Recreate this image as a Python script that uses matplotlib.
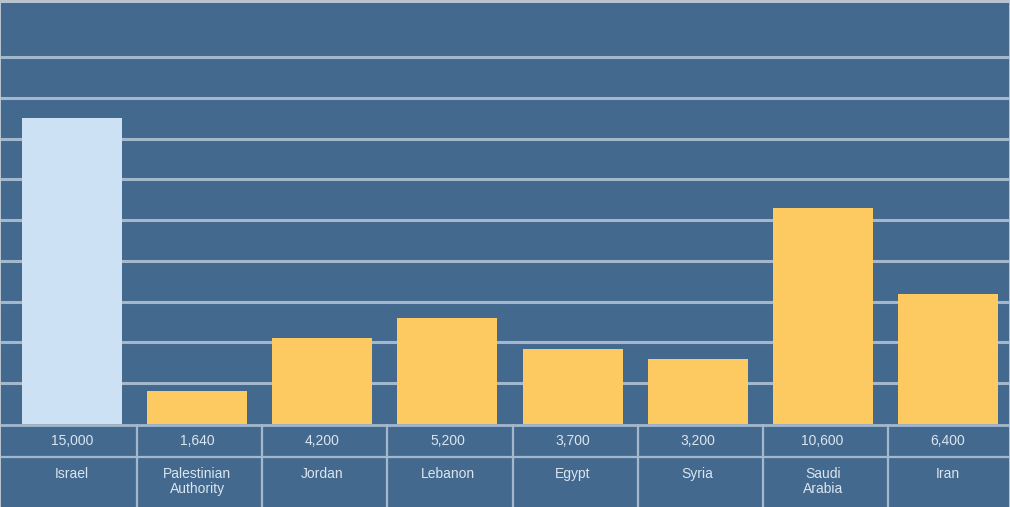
import matplotlib.pyplot as plt

# Data
countries = ["Israel", "Palestinian\nAuthority", "Jordan", "Lebanon",
             "Egypt", "Syria", "Saudi\nArabia", "Iran"]
values = [15000, 1640, 4200, 5200, 3700, 3200, 10600, 6400]
value_labels = ["15,000", "1,640", "4,200", "5,200", "3,700", "3,200", "10,600", "6,400"]
gridlines = [2000, 4000, 6000, 8000, 10000, 12000, 14000, 16000, 18000]

BG = "#44698e"
YELLOW = "#fdca62"
LIGHT = "#cde1f4"
GRID = "#a3b8cd"
TEXT = "#dbe5ef"

W, H = 1010, 507
fig = plt.figure(figsize=(W / 100, H / 100), dpi=100)
fig.patch.set_facecolor("#b7c3cf")

xlim = (-0.57, 7.49)
left, width = 1 / W, 1008 / W

# bar area
ax = fig.add_axes([left, (H - 424) / H, width, (424 - 3) / H])
ax.set_facecolor(BG)
colors = [LIGHT] + [YELLOW] * (len(values) - 1)
for y in gridlines:
    ax.axhline(y, color=GRID, lw=2.2, zorder=1)
ax.bar(range(len(values)), values, width=0.8, color=colors, zorder=2)
ax.set_xlim(*xlim)
ax.set_ylim(0, 20650)
ax.set_xticks([])
ax.set_yticks([])
for s in ax.spines.values():
    s.set_visible(False)

# table below the bars
tab = fig.add_axes([left, 0, width, (H - 424) / H])
tab.set_facecolor(BG)
tab.set_xlim(*xlim)
tab.set_ylim(83, 0)
tab.set_xticks([])
tab.set_yticks([])
for s in tab.spines.values():
    s.set_visible(False)
tab.axhline(0.8, color=GRID, lw=2)
tab.axhline(33, color=GRID, lw=1.6)
for i in range(len(values) - 1):
    tab.axvline(i + 0.52, color=GRID, lw=1.6)
for i, (v, c) in enumerate(zip(value_labels, countries)):
    tab.text(i, 17, v, color=TEXT, ha="center", va="center",
             fontsize=10, family="Liberation Sans")
    tab.text(i, 43, c, color=TEXT, ha="center", va="top",
             fontsize=10, family="Liberation Sans", linespacing=1.05)

fig.savefig("out.png", dpi=100, facecolor=fig.get_facecolor())
